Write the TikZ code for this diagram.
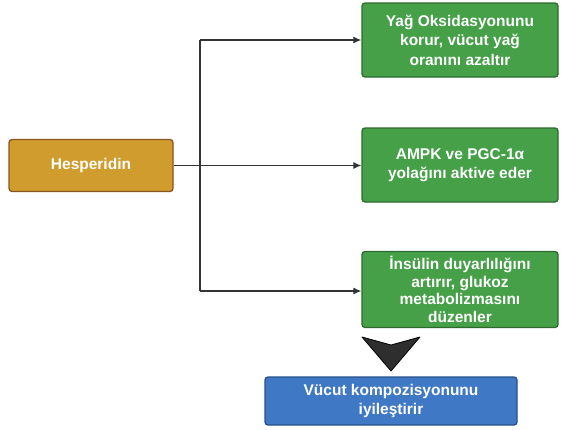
\documentclass[tikz,border=0pt]{standalone}
\usepackage{fontspec}
\setmainfont{Liberation Sans}
\usetikzlibrary{arrows.meta}
\definecolor{goldf}{HTML}{D09C2E}
\definecolor{goldd}{HTML}{8A5520}
\definecolor{greenf}{HTML}{45A048}
\definecolor{greend}{HTML}{2C6A2E}
\definecolor{bluef}{HTML}{3F78C5}
\definecolor{blued}{HTML}{27508A}
\definecolor{linec}{HTML}{333333}
\tikzset{
  boxbase/.style={rounded corners=3pt, line width=1.3pt, text=white, align=center,
    font=\fontsize{15.5}{19.5}\selectfont\bfseries, inner sep=0pt},
  goldbox/.style={boxbase, fill=goldf, draw=goldd},
  greenbox/.style={boxbase, fill=greenf, draw=greend},
  bluebox/.style={boxbase, fill=bluef, draw=blued},
  conn/.style={draw=linec, line width=1.2pt},
  arr/.style={conn, -{Latex[length=8pt,width=7pt]}}
}
\begin{document}
\begin{tikzpicture}[x=1pt,y=-1pt]
\useasboundingbox (0,0) rectangle (561,429);
\node[goldbox, minimum width=164pt, minimum height=52pt] (h) at (91,165.5) {Hesperidin};
\node[greenbox, minimum width=196pt, minimum height=74pt] (g1) at (460,40) {Yağ Oksidasyonunu\\korur, vücut yağ\\oranını azaltır};
\node[greenbox, minimum width=196pt, minimum height=74pt] (g2) at (460,165) {AMPK ve PGC-1α\\yolağını aktive eder};
\node[greenbox, minimum width=196pt, minimum height=76pt, font=\fontsize{15.5}{17.8}\selectfont\bfseries] (g3) at (460,289.5) {İnsülin duyarlılığını\\artırır, glukoz\\metabolizmasını\\düzenler};
\node[bluebox, minimum width=252pt, minimum height=48pt] (b) at (391,401) {Vücut kompozisyonunu\\iyileştirir};
\coordinate (j1) at (200,40);
\coordinate (j3) at (200,291);
\draw[arr] (h.east) -- (g2.west |- h.east);
\draw[conn] (j1) -- (j3);
\draw[arr] (j1) -- (g1.west);
\draw[arr] (j3) -- (g3.west |- j3);
\fill[fill=black!82, draw=black, line width=0.8pt, line join=round]
  (362,337) -- (391,345) -- (420,337) -- (391,371) -- cycle;
\end{tikzpicture}
\end{document}
